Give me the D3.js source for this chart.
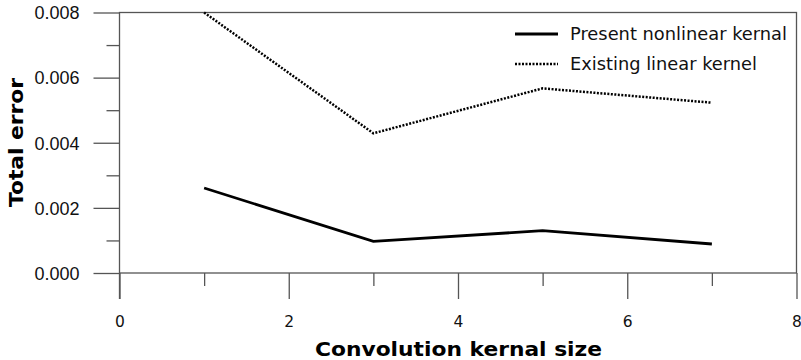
<!DOCTYPE html>
<html><head><meta charset="utf-8">
<script src="https://cdn.jsdelivr.net/npm/d3@7"></script>
<style>body{margin:0;background:#fff}svg{display:block}</style>
</head><body>
<script>
const kernelSizes = [1, 3, 5, 7];
const presentNonlinear = [0.00261, 0.00097, 0.00130, 0.00089];
const existingLinear = [0.00800, 0.00429, 0.00567, 0.00523];
const xTicks = [0, 2, 4, 6, 8];
const xMinorTicks = [1, 3, 5, 7];
const yTicks = [0, 0.002, 0.004, 0.006, 0.008];
const yMinorTicks = [0.001, 0.003, 0.005, 0.007];
const seriesNames = ["Present nonlinear kernal", "Existing linear kernel"];

const W = 801, H = 360;
const m = {left: 119.5, right: 4.5, top: 12.5, bottom: 87};
const svg = d3.select("body").append("svg").attr("width", W).attr("height", H);
const x = d3.scaleLinear().domain([0, 8]).range([m.left, W - m.right]);
const y = d3.scaleLinear().domain([0, 0.008]).range([H - m.bottom, m.top]);
const axisColor = "#555";

// frame
svg.append("rect").attr("x", x(0)).attr("y", y(0.008))
  .attr("width", x(8) - x(0)).attr("height", y(0) - y(0.008))
  .attr("fill", "none").attr("stroke", axisColor).attr("stroke-width", 1.3);

// x axis
const gx = svg.append("g").attr("transform", `translate(0,${y(0)})`)
  .call(d3.axisBottom(x).tickValues(xTicks).tickSize(26).tickPadding(17).tickFormat(d3.format("d")));
svg.append("g").attr("transform", `translate(0,${y(0)})`)
  .call(d3.axisBottom(x).tickValues(xMinorTicks).tickSize(13).tickFormat(""));
// y axis
const gy = svg.append("g").attr("transform", `translate(${x(0)},0)`)
  .call(d3.axisLeft(y).tickValues(yTicks).tickSize(26).tickPadding(14).tickFormat(d3.format(".3f")));
svg.append("g").attr("transform", `translate(${x(0)},0)`)
  .call(d3.axisLeft(y).tickValues(yMinorTicks).tickSize(13).tickFormat(""));

svg.selectAll(".domain").remove();
svg.selectAll(".tick line").attr("stroke", axisColor).attr("stroke-width", 1.3);
gx.selectAll("text").attr("font-family", "DejaVu Sans").attr("font-size", 15.5).attr("fill", "#111");
gy.selectAll("text").attr("font-family", "Liberation Sans").attr("font-size", 18).attr("fill", "#111").attr("dy", "0.35em");
svg.append("line").attr("x1", x(0)).attr("x2", x(0)).attr("y1", y(0)).attr("y2", y(0) + 26)
  .attr("stroke", axisColor).attr("stroke-width", 1.3);

// titles
svg.append("text").attr("x", 458.5).attr("y", 356).attr("text-anchor", "middle")
  .attr("font-family", "DejaVu Sans").attr("font-weight", "bold").attr("font-size", 20)
  .attr("textLength", 287).attr("lengthAdjust", "spacingAndGlyphs")
  .attr("fill", "#000").text("Convolution kernal size");
svg.append("text").attr("transform", `translate(23,142.5) rotate(-90)`).attr("text-anchor", "middle")
  .attr("font-family", "DejaVu Sans").attr("font-weight", "bold").attr("font-size", 20)
  .attr("textLength", 129).attr("lengthAdjust", "spacingAndGlyphs")
  .attr("fill", "#000").text("Total error");

// lines
const line = d3.line().x((d, i) => x(kernelSizes[i])).y(d => y(d));
svg.append("path").datum(presentNonlinear).attr("d", line)
  .attr("fill", "none").attr("stroke", "#000").attr("stroke-width", 2.8);
svg.append("path").datum(existingLinear).attr("d", line)
  .attr("fill", "none").attr("stroke", "#000").attr("stroke-width", 2.5)
  .attr("stroke-dasharray", "2,1.5");

// legend
const leg = svg.append("g");
const rows = [{name: seriesNames[0], dash: null, w: 2.8, cy: 34, len: 217},
              {name: seriesNames[1], dash: "2,1.5", w: 2.5, cy: 64, len: 187}];
rows.forEach(r => {
  leg.append("line").attr("x1", 515).attr("x2", 558).attr("y1", r.cy).attr("y2", r.cy)
    .attr("stroke", "#000").attr("stroke-width", r.w).attr("stroke-dasharray", r.dash);
  leg.append("text").attr("x", 570).attr("y", r.cy).attr("dy", "0.35em")
    .attr("font-family", "DejaVu Sans").attr("font-size", 17)
    .attr("textLength", r.len).attr("lengthAdjust", "spacingAndGlyphs")
    .attr("fill", "#111").text(r.name);
});
</script>
</body></html>
